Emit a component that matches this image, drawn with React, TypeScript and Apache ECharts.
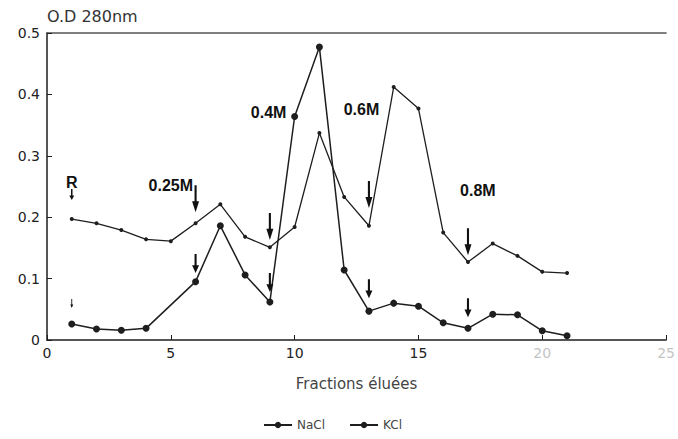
import React, { useEffect, useRef } from "react";
import * as echarts from "echarts";

const fractionsNaCl = [1, 2, 3, 4, 5, 6, 7, 8, 9, 10, 11, 12, 13, 14, 15, 16, 17, 18, 19, 20, 21];
const valuesNaCl = [0.197, 0.19, 0.179, 0.164, 0.161, 0.19, 0.221, 0.168, 0.151, 0.184, 0.337, 0.233, 0.186, 0.412, 0.377, 0.175, 0.127, 0.157, 0.137, 0.111, 0.109];
const fractionsKCl = [1, 2, 3, 4, 6, 7, 8, 9, 10, 11, 12, 13, 14, 15, 16, 17, 18, 19, 20, 21];
const valuesKCl = [0.026, 0.018, 0.016, 0.019, 0.095, 0.186, 0.106, 0.062, 0.364, 0.477, 0.114, 0.047, 0.06, 0.055, 0.028, 0.019, 0.042, 0.041, 0.015, 0.007];

const xTicks = [0, 5, 10, 15, 20, 25];
const yTicks = [0, 0.1, 0.2, 0.3, 0.4, 0.5];

// annotation arrows: fraction, tip value, kind
const arrowX = [1, 6, 9, 13, 17, 1, 6, 9, 13, 17];
const arrowTip = [0.228, 0.208, 0.163, 0.215, 0.138, 0.052, 0.109, 0.078, 0.068, 0.037];
const arrowKind = ["small", "big", "big", "big", "big", "tiny", "mid", "mid", "mid", "mid"];

// annotation labels
const labelTexts = ["R", "0.25M", "0.4M", "0.6M", "0.8M"];
const labelX = [1, 5.0, 8.95, 12.7, 17.4];
const labelY = [0.257, 0.252, 0.37, 0.375, 0.244];

const FONT = "'DejaVu Sans', 'Liberation Sans', Arial, sans-serif";
const FONT2 = "'Liberation Sans', Arial, Helvetica, sans-serif";
const INK = "#1e1e1e";

const arrowPath = "path://M3.5,0 L6.5,0 L6.5,13 L10,13 L5,22 L0,13 L3.5,13 Z";
const kindSize: Record<string, number[]> = {
  small: [5, 11],
  tiny: [3, 9],
  big: [7, 27],
  mid: [7, 19],
};

export default function App() {
  const ref = useRef<HTMLDivElement>(null);
  useEffect(() => {
    document.body.style.margin = "0";
    if (!ref.current) return;
    const chart = echarts.init(ref.current, null, { renderer: "svg" });
    chart.setOption({
      animation: false,
      backgroundColor: "#ffffff",
      textStyle: { fontFamily: FONT },
      grid: { left: 47, top: 33, right: 9, bottom: 99 },
      legend: {
        data: ["NaCl", "KCl"],
        top: 414,
        left: 258,
        itemWidth: 28,
        itemHeight: 8,
        itemGap: 24,
        textStyle: { fontFamily: FONT, fontSize: 12, color: "#444" },
      },
      xAxis: [
        {
          type: "value",
          min: xTicks[0],
          max: xTicks[xTicks.length - 1],
          interval: 5,
          name: "Fractions éluées",
          nameLocation: "middle",
          nameGap: 36,
          nameTextStyle: { fontFamily: FONT, fontSize: 15, color: "#444" },
          axisLine: { show: true, lineStyle: { color: INK, width: 1.5 } },
          axisTick: { show: true, inside: true, length: 5, lineStyle: { color: INK } },
          splitLine: { show: false },
          axisLabel: {
            fontSize: 14,
            margin: 6,
            fontFamily: FONT,
            color: (v: any) => (Number(v) >= 20 ? "#c4c4c4" : "#222"),
          },
        },
        {
          type: "value",
          position: "top",
          min: 0,
          max: 25,
          axisLine: { show: true, lineStyle: { color: "#555", width: 1.5 } },
          axisTick: { show: false },
          axisLabel: { show: false },
          splitLine: { show: false },
        },
      ],
      yAxis: {
        type: "value",
        min: yTicks[0],
        max: yTicks[yTicks.length - 1],
        interval: 0.1,
        name: "O.D 280nm",
        nameLocation: "end",
        nameGap: 9,
        nameTextStyle: { fontFamily: FONT, fontSize: 16, color: "#333", align: "left" },
        axisLine: { show: true, lineStyle: { color: INK, width: 1.5 } },
        axisTick: { show: true, inside: true, length: 5, lineStyle: { color: INK } },
        splitLine: { show: false },
        axisLabel: {
          fontSize: 14,
          margin: 7,
          fontFamily: FONT,
          color: "#222",
          formatter: (v: number) => (v === 0 ? "0" : v.toFixed(1)),
        },
      },
      series: [
        {
          name: "NaCl",
          type: "line",
          data: fractionsNaCl.map((x, i) => [x, valuesNaCl[i]]),
          symbol: "circle",
          symbolSize: 4,
          lineStyle: { color: INK, width: 1.3 },
          itemStyle: { color: INK },
        },
        {
          name: "KCl",
          type: "line",
          data: fractionsKCl.map((x, i) => [x, valuesKCl[i]]),
          symbol: "circle",
          symbolSize: 7,
          lineStyle: { color: INK, width: 1.5 },
          itemStyle: { color: INK },
        },
        {
          name: "arrows",
          type: "scatter",
          silent: true,
          z: 5,
          symbol: arrowPath,
          itemStyle: { color: "#111", opacity: 1 },
          data: arrowX.map((x, i) => ({
            value: [x, arrowTip[i]],
            symbolSize: kindSize[arrowKind[i]],
            symbolOffset: [0, -kindSize[arrowKind[i]][1] / 2],
          })),
        },
        {
          name: "labels",
          type: "scatter",
          silent: true,
          z: 6,
          symbolSize: 1,
          itemStyle: { color: "rgba(0,0,0,0)", opacity: 1 },
          label: {
            show: true,
            position: "inside",
            formatter: "{b}",
            fontFamily: FONT2,
            fontSize: 16,
            fontWeight: "bold",
            color: "#111",
          },
          data: labelTexts.map((t, i) => ({ name: t, value: [labelX[i], labelY[i]] })),
        },
      ],
    });
    return () => chart.dispose();
  }, []);
  return <div ref={ref} style={{ width: 678, height: 439 }} />;
}
